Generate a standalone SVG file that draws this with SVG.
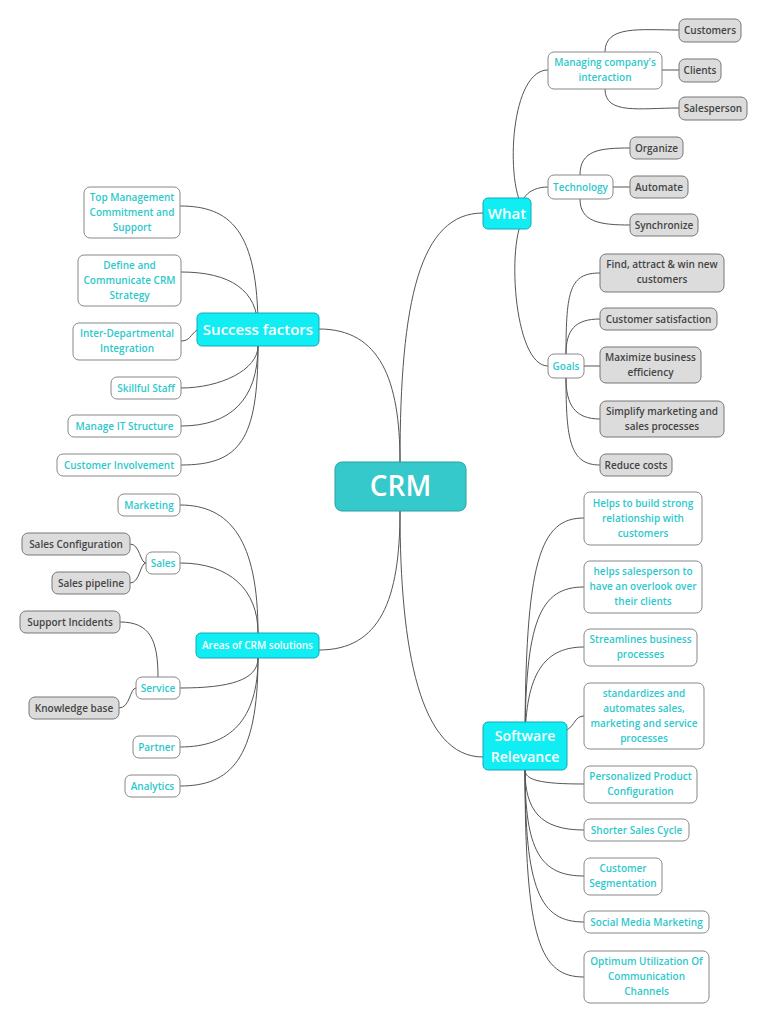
<svg xmlns="http://www.w3.org/2000/svg" width="768" height="1024" viewBox="0 0 768 1024">
<style>
text{font-family:"Open Sans","Liberation Sans",sans-serif;font-weight:600;text-anchor:middle}
.c path{fill:none;stroke:#555;stroke-width:1}
.g rect{fill:#dcdcdc;stroke:#777;stroke-width:1}
.g text{fill:#444;font-size:10px}
.w rect{fill:#fff;stroke:#888;stroke-width:1}
.w text{fill:#2ec8cc;font-size:10px}
.l rect{fill:#10eef4;stroke:#1ab;stroke-width:1}
.l text{fill:#fff}
</style>
<rect width="768" height="1024" fill="#fff"/>
<g class="c">
<path d="M400 462 C400 300 420 213 483 213"/>
<path d="M400 462 C400 380 380 329 319 329"/>
<path d="M400 511 C400 600 380 650 319 650"/>
<path d="M400 511 C400 650 420 757 483 757"/>
<path d="M531 213 C505 213 505 70 548 70"/>
<path d="M531 213 C515 213 520 187 548 187"/>
<path d="M531 213 C505 213 510 366 548 366"/>
<path d="M605 52 C605 25 640 30 679 30"/>
<path d="M662 70 L679 70"/>
<path d="M605 89 C605 115 640 108 679 108"/>
<path d="M580 175 C580 150 600 148 630 148"/>
<path d="M613 187 L630 187"/>
<path d="M580 199 C580 222 600 225 630 225"/>
<path d="M566 354 C566 290 570 273 600 273"/>
<path d="M566 354 C566 330 575 319 600 319"/>
<path d="M584 366 L600 366"/>
<path d="M566 378 C566 405 575 419 600 419"/>
<path d="M566 378 C566 440 570 465 600 465"/>
<path d="M258 329 C258 230 230 206 180 206"/>
<path d="M258 329 C258 290 230 272 181 272"/>
<path d="M197 330 C190 335 190 341 181 341"/>
<path d="M258 346 C258 370 220 388 181 388"/>
<path d="M258 346 C258 400 230 426 181 426"/>
<path d="M258 346 C258 440 240 465 181 465"/>
<path d="M258 633 C258 540 230 505 180 505"/>
<path d="M258 633 C258 590 230 563 180 563"/>
<path d="M146 563 C140 563 140 544 130 544"/>
<path d="M146 563 C140 563 140 583 130 583"/>
<path d="M258 658 C258 680 230 688 180 688"/>
<path d="M258 658 C258 720 230 747 180 747"/>
<path d="M258 658 C258 760 230 786 180 786"/>
<path d="M158 677 C158 640 150 622 120 622"/>
<path d="M136 688 C130 688 130 708 119 708"/>
<path d="M525 746 C525 560 540 518 584 518"/>
<path d="M525 746 C525 620 540 587 584 587"/>
<path d="M525 746 C525 680 540 647 584 647"/>
<path d="M567 730 C575 725 575 716 584 716"/>
<path d="M525 770 C525 780 540 784 584 784"/>
<path d="M525 770 C525 810 540 830 584 830"/>
<path d="M525 770 C525 850 540 876 584 876"/>
<path d="M525 770 C525 890 540 922 584 922"/>
<path d="M525 770 C525 940 540 977 584 977"/>
</g>
<g id="crm"><rect x="335" y="462" width="131" height="49" rx="7" fill="#36c9cb" stroke="#2a9fa1"/><text x="400.500" y="496" font-size="28" fill="#fff">CRM</text></g>
<g id="what" class="l"><rect x="483" y="198" width="48" height="31" rx="5"/><text x="507" y="219" font-size="15">What</text></g>
<g id="success" class="l"><rect x="197" y="313" width="122" height="33" rx="5"/><text x="258" y="335" font-size="15">Success factors</text></g>
<g id="areas" class="l"><rect x="196" y="633" width="123" height="25" rx="5"/><text x="257.500" y="649" font-size="10">Areas of CRM solutions</text></g>
<g id="software" class="l"><rect x="483" y="722" width="84" height="48" rx="5"/><text x="525" y="741" font-size="14">Software</text><text x="525" y="762" font-size="14">Relevance</text></g>
<g id="managing" class="w"><rect x="548" y="52" width="114" height="37" rx="6"/><text x="605" y="66">Managing company's</text><text x="605" y="81">interaction</text></g>
<g id="technology" class="w"><rect x="548" y="175" width="65" height="24" rx="6"/><text x="580.500" y="191">Technology</text></g>
<g id="goals" class="w"><rect x="548" y="354" width="36" height="24" rx="6"/><text x="566" y="370">Goals</text></g>
<g id="customers" class="g"><rect x="679" y="19" width="62" height="23" rx="6"/><text x="710" y="34">Customers</text></g>
<g id="clients" class="g"><rect x="679" y="59" width="42" height="23" rx="6"/><text x="700" y="74">Clients</text></g>
<g id="salesperson" class="g"><rect x="679" y="97" width="68" height="23" rx="6"/><text x="713" y="112">Salesperson</text></g>
<g id="organize" class="g"><rect x="630" y="137" width="53" height="22" rx="6"/><text x="656.500" y="152">Organize</text></g>
<g id="automate" class="g"><rect x="630" y="176" width="58" height="22" rx="6"/><text x="659" y="191">Automate</text></g>
<g id="synchronize" class="g"><rect x="630" y="214" width="68" height="22" rx="6"/><text x="664" y="229">Synchronize</text></g>
<g id="find" class="g"><rect x="600" y="254" width="124" height="38" rx="6"/><text x="662" y="268">Find, attract &amp; win new</text><text x="662" y="283">customers</text></g>
<g id="satisfaction" class="g"><rect x="600" y="308" width="117" height="22" rx="6"/><text x="658.500" y="323">Customer satisfaction</text></g>
<g id="maximize" class="g"><rect x="600" y="347" width="101" height="36" rx="6"/><text x="650.500" y="361">Maximize business</text><text x="650.500" y="376">efficiency</text></g>
<g id="simplify" class="g"><rect x="600" y="401" width="124" height="36" rx="6"/><text x="662" y="415">Simplify marketing and</text><text x="662" y="430">sales processes</text></g>
<g id="reduce" class="g"><rect x="600" y="454" width="72" height="22" rx="6"/><text x="636" y="469">Reduce costs</text></g>
<g id="topmgmt" class="w"><rect x="84" y="187" width="96" height="51" rx="6"/><text x="132" y="201">Top Management</text><text x="132" y="216">Commitment and</text><text x="132" y="231">Support</text></g>
<g id="define" class="w"><rect x="78" y="255" width="103" height="51" rx="6"/><text x="129.500" y="269">Define and</text><text x="129.500" y="284">Communicate CRM</text><text x="129.500" y="299">Strategy</text></g>
<g id="inter" class="w"><rect x="73" y="323" width="108" height="37" rx="6"/><text x="127" y="337">Inter-Departmental</text><text x="127" y="352">Integration</text></g>
<g id="skillful" class="w"><rect x="111" y="377" width="70" height="22" rx="6"/><text x="146" y="392">Skillful Staff</text></g>
<g id="manageit" class="w"><rect x="68" y="415" width="113" height="22" rx="6"/><text x="124.500" y="430">Manage IT Structure</text></g>
<g id="involvement" class="w"><rect x="57" y="454" width="124" height="22" rx="6"/><text x="119" y="469">Customer Involvement</text></g>
<g id="marketing" class="w"><rect x="118" y="494" width="62" height="22" rx="6"/><text x="149" y="509">Marketing</text></g>
<g id="sales" class="w"><rect x="146" y="552" width="34" height="22" rx="6"/><text x="163" y="567">Sales</text></g>
<g id="service" class="w"><rect x="136" y="677" width="44" height="22" rx="6"/><text x="158" y="692">Service</text></g>
<g id="partner" class="w"><rect x="133" y="736" width="47" height="22" rx="6"/><text x="156.500" y="751">Partner</text></g>
<g id="analytics" class="w"><rect x="125" y="775" width="55" height="22" rx="6"/><text x="152.500" y="790">Analytics</text></g>
<g id="salesconfig" class="g"><rect x="22" y="533" width="108" height="22" rx="6"/><text x="76" y="548">Sales Configuration</text></g>
<g id="pipeline" class="g"><rect x="52" y="572" width="78" height="22" rx="6"/><text x="91" y="587">Sales pipeline</text></g>
<g id="support" class="g"><rect x="20" y="611" width="100" height="22" rx="6"/><text x="70" y="626">Support Incidents</text></g>
<g id="knowledge" class="g"><rect x="29" y="697" width="90" height="22" rx="6"/><text x="74" y="712">Knowledge base</text></g>
<g id="s1" class="w"><rect x="584" y="492" width="118" height="53" rx="6"/><text x="643" y="507">Helps to  build strong</text><text x="643" y="522">relationship with</text><text x="643" y="537">customers</text></g>
<g id="s2" class="w"><rect x="584" y="561" width="118" height="52" rx="6"/><text x="643" y="575">helps salesperson to</text><text x="643" y="590">have an overlook over</text><text x="643" y="605">their clients</text></g>
<g id="s3" class="w"><rect x="584" y="629" width="113" height="37" rx="6"/><text x="640.500" y="643">Streamlines business</text><text x="640.500" y="658">processes</text></g>
<g id="s4" class="w"><rect x="584" y="683" width="120" height="66" rx="6"/><text x="644" y="697">standardizes and</text><text x="644" y="712">automates sales,</text><text x="644" y="727">marketing and service</text><text x="644" y="742">processes</text></g>
<g id="s5" class="w"><rect x="584" y="766" width="113" height="37" rx="6"/><text x="640.500" y="780">Personalized Product</text><text x="640.500" y="795">Configuration</text></g>
<g id="s6" class="w"><rect x="584" y="819" width="105" height="22" rx="6"/><text x="636.500" y="834">Shorter Sales Cycle</text></g>
<g id="s7" class="w"><rect x="584" y="858" width="78" height="37" rx="6"/><text x="623" y="872">Customer</text><text x="623" y="887">Segmentation</text></g>
<g id="s8" class="w"><rect x="584" y="911" width="125" height="22" rx="6"/><text x="646.500" y="926">Social Media Marketing</text></g>
<g id="s9" class="w"><rect x="584" y="951" width="125" height="52" rx="6"/><text x="646.500" y="965">Optimum Utilization Of</text><text x="646.500" y="980">Communication</text><text x="646.500" y="995">Channels</text></g>
</svg>
